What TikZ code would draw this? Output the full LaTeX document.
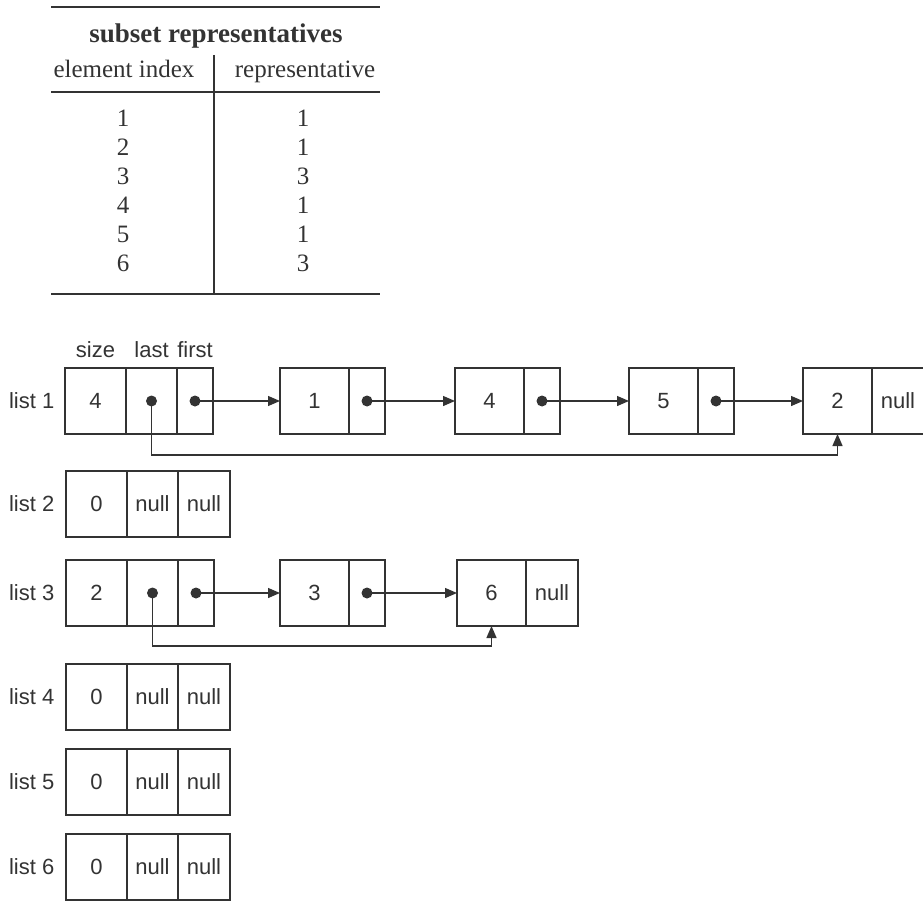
\documentclass[tikz,border=0pt]{standalone}
\usepackage{fontspec}
\setmainfont{Liberation Serif}
\setsansfont{Liberation Sans}
\usetikzlibrary{arrows.meta, positioning}
\definecolor{ink}{HTML}{333333}

\begin{document}
\begin{tikzpicture}[x=1pt, y=-1pt, color=ink, line width=1.3pt,
    >={Triangle[length=12pt, width=10pt]},
    cell/.style={draw, minimum height=66pt, inner sep=0pt, outer sep=0pt,
                 font=\sffamily\fontsize{22}{26}\selectfont},
    sizecell/.style={cell, minimum width=61pt},
    lastcell/.style={cell, minimum width=51pt},
    valcell/.style={cell, minimum width=69pt},
    ptrcell/.style={cell, minimum width=36pt},
    nullcell/.style={cell, minimum width=52pt},
    dot/.style={fill, circle, minimum size=11pt, inner sep=0pt},
    listname/.style={anchor=east, inner sep=0pt, font=\sffamily\fontsize{22}{26}\selectfont},
    fieldname/.style={inner sep=0pt, font=\sffamily\fontsize{22}{26}\selectfont},
    tabtext/.style={anchor=base, inner sep=0pt, font=\fontsize{25}{30}\selectfont}]
  \useasboundingbox (0,0) rectangle (923,901);

  % table of representatives
  \draw[line width=2pt] (51,7) -- (380,7);
  \node[tabtext, font=\fontsize{27}{32}\selectfont] (title) at (216,43) {\textbf{subset representatives}};
  \node[tabtext] (hidx) at (124,78) {element index};
  \node[tabtext] (hrep) at (305,78) {representative};
  \draw (51,92) -- (380,92);
  \draw (214,55) -- (214,293);
  \foreach \i/\r in {1/1, 2/1, 3/3, 4/1, 5/1, 6/3} {
    \node[tabtext] (idx\i) at (123,{127+29*(\i-1)}) {\i};
    \node[tabtext] (rep\i) at (303,{127+29*(\i-1)}) {\r};
  }
  \draw[line width=2pt] (51,294) -- (380,294);

  % list 1
  \node[listname] (name1) at (55,401) {list 1};
  \node[sizecell, anchor=west] (h1size) at (65,401) {4};
  \node[lastcell, right=0pt of h1size] (h1last) {};
  \node[ptrcell, right=0pt of h1last] (h1first) {};
  \node[fieldname, above=10pt of h1size] (szlab) {size};
  \node[fieldname, above=10pt of h1last] (lastlab) {last};
  \node[fieldname, above=10pt of h1first] (firstlab) {first};

  \node[valcell, anchor=west] (a1) at (280,401) {1};
  \node[ptrcell, right=0pt of a1] (a1p) {};
  \node[valcell, anchor=west] (a4) at (455,401) {4};
  \node[ptrcell, right=0pt of a4] (a4p) {};
  \node[valcell, anchor=west] (a5) at (629,401) {5};
  \node[ptrcell, right=0pt of a5] (a5p) {};
  \node[valcell, anchor=west] (a2) at (803,401) {2};
  \node[nullcell, right=0pt of a2] (a2p) {null};

  \draw[->] (h1first.center) -- (a1.west);
  \draw[->] (a1p.center) -- (a4.west);
  \draw[->] (a4p.center) -- (a5.west);
  \draw[->] (a5p.center) -- (a2.west);
  \draw[->] (h1last.center) -- ++(0,54) -| (a2.south);
  \node[dot] (d1l) at (h1last.center) {};
  \node[dot] (d1f) at (h1first.center) {};
  \node[dot] (d1a) at (a1p.center) {};
  \node[dot] (d1b) at (a4p.center) {};
  \node[dot] (d1c) at (a5p.center) {};

  % list 3
  \node[listname] (name3) at (55,593) {list 3};
  \node[sizecell, anchor=west] (h3size) at (66,593) {2};
  \node[lastcell, right=0pt of h3size] (h3last) {};
  \node[ptrcell, right=0pt of h3last] (h3first) {};
  \node[valcell, anchor=west] (b3) at (280,593) {3};
  \node[ptrcell, right=0pt of b3] (b3p) {};
  \node[valcell, anchor=west] (b6) at (457,593) {6};
  \node[nullcell, right=0pt of b6] (b6p) {null};

  \draw[->] (h3first.center) -- (b3.west);
  \draw[->] (b3p.center) -- (b6.west);
  \draw[->] (h3last.center) -- ++(0,53) -| (b6.south);
  \node[dot] (d3l) at (h3last.center) {};
  \node[dot] (d3f) at (h3first.center) {};
  \node[dot] (d3a) at (b3p.center) {};

  % empty lists
  \foreach \n/\y in {2/504, 4/697, 5/782, 6/867} {
    \node[listname] (name\n) at (55,\y) {list \n};
    \node[sizecell, anchor=west] (h\n size) at (66,\y) {0};
    \node[lastcell, right=0pt of h\n size] (h\n last) {null};
    \node[nullcell, right=0pt of h\n last] (h\n first) {null};
  }
\end{tikzpicture}
\end{document}
